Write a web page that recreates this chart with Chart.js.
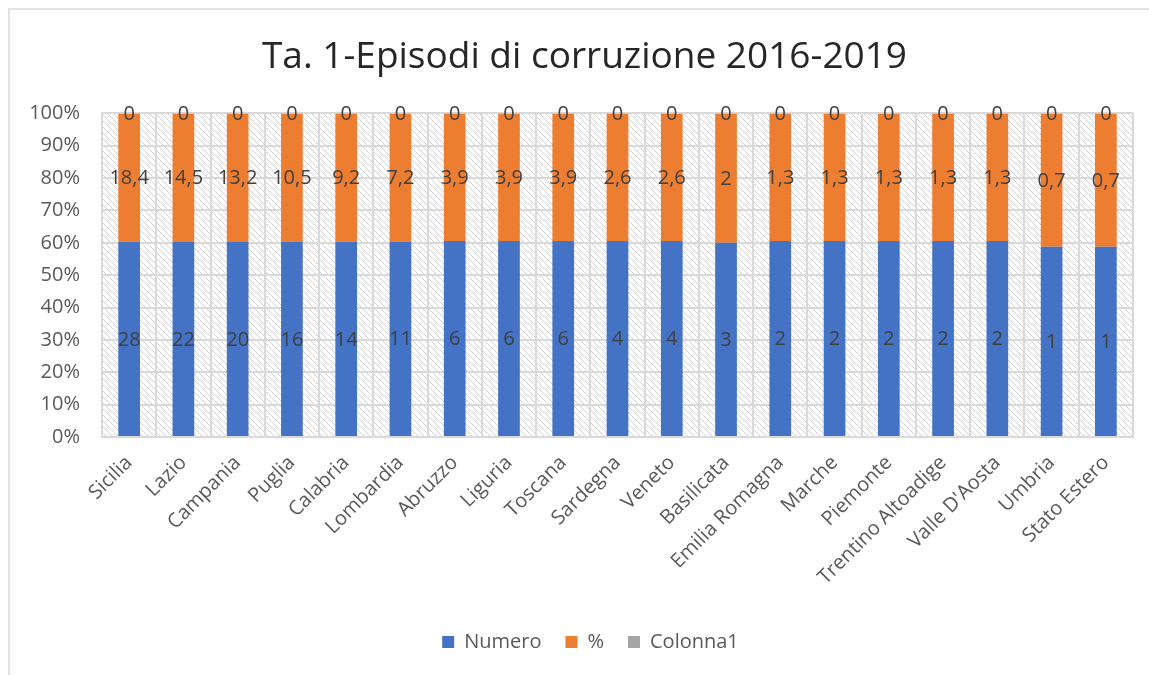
<!DOCTYPE html>
<html>
<head>
<meta charset="utf-8">
<style>
  html, body { margin: 0; padding: 0; background: #ffffff; }
  #wrap { width: 1149px; height: 675px; }
</style>
<script src="https://cdn.jsdelivr.net/npm/chart.js@4.4.1/dist/chart.umd.min.js"></script>
</head>
<body>
<div id="wrap"><canvas id="c" width="1149" height="675"></canvas></div>
<script>
const categories = ["Sicilia", "Lazio", "Campania", "Puglia", "Calabria", "Lombardia", "Abruzzo", "Liguria", "Toscana", "Sardegna", "Veneto", "Basilicata", "Emilia Romagna", "Marche", "Piemonte", "Trentino Altoadige", "Valle D'Aosta", "Umbria", "Stato Estero"];
const numero = [28, 22, 20, 16, 14, 11, 6, 6, 6, 4, 4, 3, 2, 2, 2, 2, 2, 1, 1];
const percento = [18.4, 14.5, 13.2, 10.5, 9.2, 7.2, 3.9, 3.9, 3.9, 2.6, 2.6, 2, 1.3, 1.3, 1.3, 1.3, 1.3, 0.7, 0.7];
const colonna1 = [0, 0, 0, 0, 0, 0, 0, 0, 0, 0, 0, 0, 0, 0, 0, 0, 0, 0, 0];
const seriesNames = ["Numero", "%", "Colonna1"];
const yTickValues = [0, 10, 20, 30, 40, 50, 60, 70, 80, 90, 100];

const rawSeries = [numero, percento, colonna1];
const totals = categories.map((_, i) => numero[i] + percento[i] + colonna1[i]);
const share = arr => arr.map((v, i) => totals[i] ? v / totals[i] * 100 : 0);

const colors = ["#4472C4", "#ED7D31", "#A5A5A5"];
const FONT = "'Open Sans', 'DejaVu Sans', sans-serif";

const hatchPlugin = {
  id: 'hatch',
  afterLayout(chart) {
    if (chart.titleBlock) { chart.titleBlock.left += 13; chart.titleBlock.right += 13; }
    if (chart.legend) { chart.legend.left += 19; chart.legend.right += 19; }
  },
  beforeDraw(chart) {
    const ctx = chart.ctx;
    ctx.save();
    ctx.strokeStyle = '#e3e3e3';
    ctx.lineWidth = 2;
    ctx.beginPath();
    ctx.moveTo(9, 675);
    ctx.lineTo(9, 9);
    ctx.lineTo(1149, 9);
    ctx.stroke();
    ctx.restore();
    const pc = document.createElement('canvas');
    pc.width = 6; pc.height = 6;
    const p = pc.getContext('2d');
    p.fillStyle = '#ffffff';
    p.fillRect(0, 0, 6, 6);
    p.strokeStyle = '#d2d2d2';
    p.lineWidth = 1;
    p.beginPath();
    p.moveTo(-1, -1); p.lineTo(7, 7);
    p.moveTo(-4, 2); p.lineTo(4, 10);
    p.moveTo(2, -4); p.lineTo(10, 4);
    p.stroke();
    const a = chart.chartArea;
    ctx.save();
    ctx.fillStyle = ctx.createPattern(pc, 'repeat');
    ctx.fillRect(a.left, a.top, a.right - a.left, a.bottom - a.top);
    ctx.restore();
  }
};

const labelPlugin = {
  id: 'valueLabels',
  afterDatasetsDraw(chart) {
    const ctx = chart.ctx;
    ctx.save();
    ctx.font = "20px " + FONT;
    ctx.fillStyle = '#404040';
    ctx.textAlign = 'center';
    ctx.textBaseline = 'middle';
    chart.data.datasets.forEach((ds, di) => {
      const meta = chart.getDatasetMeta(di);
      meta.data.forEach((el, i) => {
        const {x, y, base} = el.getProps(['x', 'y', 'base'], true);
        const v = rawSeries[di][i];
        const txt = String(v).replace('.', ',');
        ctx.fillText(txt, x, (y + base) / 2 + 1);
      });
    });
    ctx.restore();
  }
};

new Chart(document.getElementById('c'), {
  type: 'bar',
  data: {
    labels: categories,
    datasets: rawSeries.map((arr, i) => ({
      label: seriesNames[i],
      data: share(arr),
      backgroundColor: colors[i],
      borderWidth: 0,
      categoryPercentage: 1.0,
      barPercentage: 0.4
    }))
  },
  options: {
    responsive: false,
    animation: false,
    devicePixelRatio: 1,
    layout: { padding: { left: 10, right: 16, top: 0, bottom: 13 } },
    plugins: {
      title: {
        display: true,
        text: 'Ta. 1-Episodi di corruzione 2016-2019',
        color: '#262626',
        font: { family: FONT, size: 37, weight: 'normal' },
        padding: { top: 35, bottom: 34 }
      },
      legend: {
        position: 'bottom',
        labels: {
          color: '#595959',
          font: { family: FONT, size: 20 },
          boxWidth: 12,
          boxHeight: 12,
          padding: 24
        }
      },
      tooltip: { enabled: false }
    },
    scales: {
      x: {
        stacked: true,
        grid: { color: '#d9d9d9', lineWidth: 2, drawTicks: false, offset: true },
        border: { color: '#d9d9d9', width: 2 },
        ticks: {
          color: '#595959',
          font: { family: FONT, size: 20 },
          minRotation: 45,
          maxRotation: 45,
          padding: 14,
          autoSkip: false
        },
        afterFit(scale) { scale.height = 171; }
      },
      y: {
        stacked: true,
        min: 0,
        max: 100,
        afterBuildTicks(scale) { scale.ticks = yTickValues.map(v => ({ value: v })); },
        grid: { color: '#d9d9d9', lineWidth: 2, drawTicks: false },
        border: { color: '#d9d9d9', width: 2 },
        ticks: {
          color: '#595959',
          font: { family: FONT, size: 20 },
          padding: 22,
          callback: v => v + '%'
        },
        afterFit(scale) { scale.width = 92; }
      }
    }
  },
  plugins: [hatchPlugin, labelPlugin]
});
</script>
</body>
</html>
